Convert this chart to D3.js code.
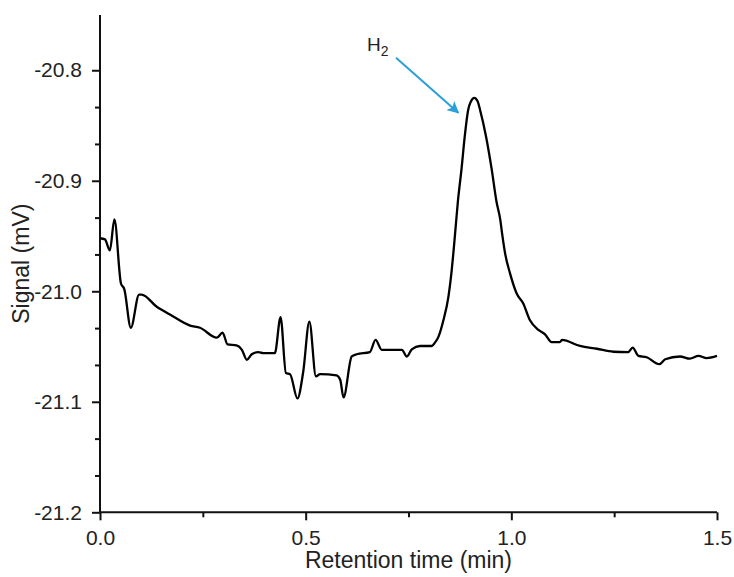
<!DOCTYPE html>
<html>
<head>
<meta charset="utf-8">
<script src="https://cdn.jsdelivr.net/npm/d3@7"></script>
<style>
  body { margin: 0; background: #fff; }
  svg { font-family: "Liberation Sans", Arial, sans-serif; }
</style>
</head>
<body>
<svg id="chart"></svg>
<script>
// retention time (min) and detector signal (mV)
let time = [0.000, 0.012, 0.024, 0.035, 0.051, 0.059, 0.075, 0.095, 0.101, 0.138,
    0.170, 0.219, 0.243, 0.284, 0.298, 0.310, 0.332, 0.345, 0.357, 0.369,
    0.385, 0.397, 0.425, 0.439, 0.452, 0.462, 0.480, 0.494, 0.509, 0.525,
    0.535, 0.575, 0.584, 0.592, 0.612, 0.624, 0.656, 0.670, 0.685, 0.705,
    0.734, 0.746, 0.758, 0.778, 0.806, 0.815, 0.823, 0.835, 0.847, 0.855,
    0.863, 0.870, 0.879, 0.887, 0.895, 0.902, 0.910, 0.918, 0.924, 0.938,
    0.952, 0.964, 0.973, 0.978, 0.985, 0.997, 1.013, 1.029, 1.045, 1.066,
    1.082, 1.098, 1.118, 1.123, 1.167, 1.208, 1.248, 1.284, 1.295, 1.309,
    1.329, 1.360, 1.374, 1.410, 1.434, 1.455, 1.475, 1.500]
let signal = [-20.952, -20.953, -20.963, -20.935, -20.993, -20.998, -21.033, -21.003, -21.003, -21.014,
    -21.021, -21.031, -21.033, -21.042, -21.0375, -21.048, -21.049, -21.053, -21.062, -21.057,
    -21.055, -21.056, -21.056, -21.0235, -21.074, -21.075, -21.097, -21.073, -21.0275, -21.077,
    -21.075, -21.076, -21.080, -21.096, -21.059, -21.057, -21.055, -21.044, -21.053, -21.053,
    -21.053, -21.059, -21.0525, -21.0495, -21.0495, -21.046, -21.041, -21.026, -21.005, -20.981,
    -20.949, -20.919, -20.889, -20.859, -20.836, -20.828, -20.825, -20.828, -20.836, -20.859,
    -20.889, -20.919, -20.935, -20.949, -20.966, -20.984, -21.002, -21.011, -21.026, -21.035,
    -21.039, -21.046, -21.046, -21.044, -21.0495, -21.052, -21.0547, -21.055, -21.051, -21.0585,
    -21.0597, -21.066, -21.0615, -21.059, -21.061, -21.0585, -21.0605, -21.0585]

let xTicks = [0, 0.5, 1.0, 1.5]
let yTicks = [-21.2, -21.1, -21.0, -20.9, -20.8]
let peakLabel = 'H'
let peakSub = '2'

let W = 734, H = 577
let svg = d3.select('#chart')
    .attr('width', W)
    .attr('height', H)
    .attr('viewBox', `0 0 ${W} ${H}`)

let x = d3.scaleLinear().domain([0, 1.5]).range([100, 717])
let y = d3.scaleLinear().domain([-21.2, -20.75]).range([512.3, 15])

let axisG = svg.append('g').attr('id', 'axisG')
let lineG = svg.append('g').attr('id', 'lineG')

let fmt = d => d.toFixed(1)

// minor ticks first, majors on top
axisG.append('g')
    .attr('transform', `translate(0, ${y(-21.2)})`)
    .call(d3.axisBottom(x).tickValues(d3.range(0.25, 1.5, 0.5)).tickSize(5).tickFormat(''))
axisG.append('g')
    .attr('transform', `translate(${x(0)}, 0)`)
    .call(d3.axisLeft(y).tickValues(d3.range(0, 13).map(i => -21.2 + i / 30).filter((d, i) => i % 3 != 0)).tickSize(5).tickFormat(''))

let xAxis = axisG.append('g')
    .attr('transform', `translate(0, ${y(-21.2)})`)
    .call(d3.axisBottom(x).tickValues(xTicks).tickSize(8).tickPadding(10).tickFormat(fmt))
let yAxis = axisG.append('g')
    .attr('transform', `translate(${x(0)}, 0)`)
    .call(d3.axisLeft(y).tickValues(yTicks).tickSize(8).tickPadding(10).tickFormat(fmt))

axisG.selectAll('.domain').attr('stroke', '#111').attr('stroke-width', 2)
axisG.selectAll('.tick line').attr('stroke', '#111').attr('stroke-width', 2)
axisG.selectAll('.tick text')
    .attr('font-size', 21)
    .attr('fill', '#222')
    .style('font-family', '"Liberation Sans", Arial, sans-serif')
// plain axis lines, no outer ticks
axisG.selectAll('.domain').attr('d', null)
xAxis.select('.domain').attr('d', `M${x(0)},0H${x(1.5)}`)
yAxis.select('.domain').attr('d', `M0,${y(-21.2)}V${y(-20.75)}`)

svg.append('text')
    .text('Retention time (min)')
    .attr('x', (x(0) + x(1.5)) / 2)
    .attr('y', 568)
    .attr('text-anchor', 'middle')
    .attr('font-size', 23)
    .attr('fill', '#222')

svg.append('text')
    .text('Signal (mV)')
    .attr('transform', `translate(29, ${(y(-21.2) + y(-20.75)) / 2}) rotate(-90)`)
    .attr('text-anchor', 'middle')
    .attr('font-size', 23)
    .attr('fill', '#222')

let line = d3.line()
    .x(d => x(d[0]))
    .y(d => y(d[1]))
    .curve(d3.curveMonotoneX)

lineG.append('path')
    .datum(time.map((t, i) => [t, signal[i]]))
    .attr('d', line)
    .attr('fill', 'none')
    .attr('stroke', '#000')
    .attr('stroke-width', 2.3)
    .attr('stroke-linejoin', 'round')

// H2 annotation
let defs = svg.append('defs')
defs.append('marker')
    .attr('id', 'arrowHead')
    .attr('viewBox', '0 0 10 10')
    .attr('refX', 9).attr('refY', 5)
    .attr('markerWidth', 6).attr('markerHeight', 6)
    .attr('markerUnits', 'strokeWidth')
    .attr('orient', 'auto')
    .append('path')
    .attr('d', 'M0,0L10,5L0,10L2.5,5Z')
    .attr('fill', '#2a9fd8')

let label = svg.append('text')
    .attr('x', 367)
    .attr('y', 51)
    .attr('font-size', 19)
    .attr('fill', '#222')
label.append('tspan').text(peakLabel)
label.append('tspan').text(peakSub).attr('font-size', 14).attr('dy', 5)

svg.append('line')
    .attr('x1', 396).attr('y1', 57.7)
    .attr('x2', 458.3).attr('y2', 112.7)
    .attr('stroke', '#2a9fd8')
    .attr('stroke-width', 2)
    .attr('marker-end', 'url(#arrowHead)')
</script>
</body>
</html>
